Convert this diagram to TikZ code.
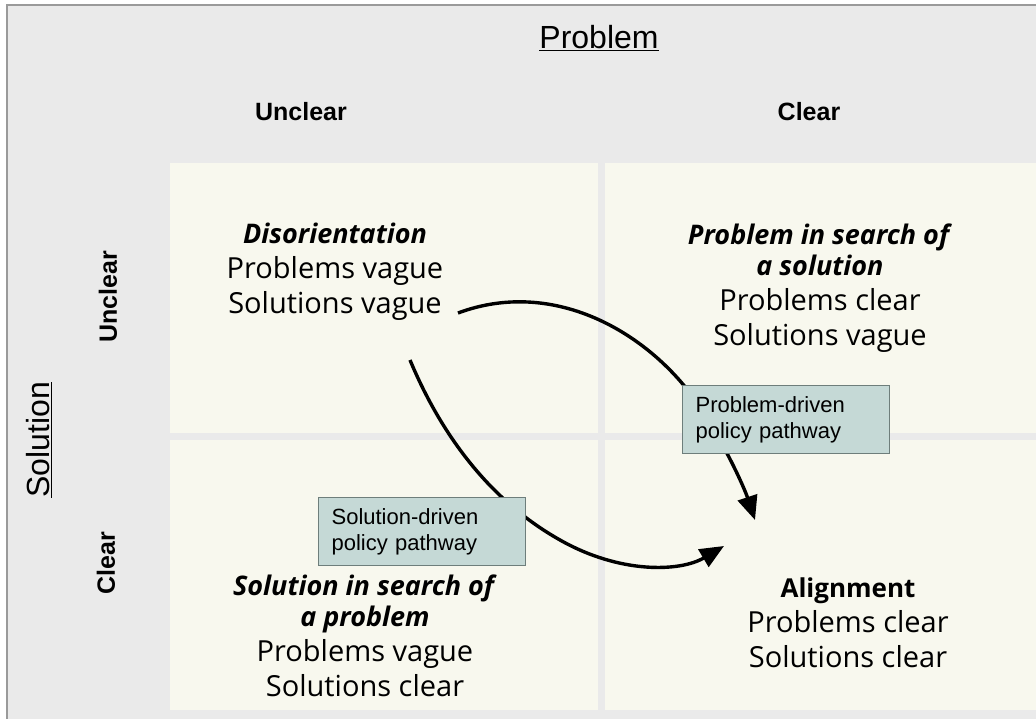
\documentclass[tikz,border=0pt]{standalone}
\usepackage{fontspec}
\setmainfont{Open Sans}
\newfontfamily\arialfont{Liberation Sans}
\usetikzlibrary{arrows.meta,positioning}
\definecolor{panelgray}{HTML}{EAEAEA}
\definecolor{framegray}{HTML}{9A9A9A}
\definecolor{quadcream}{HTML}{F8F8EE}
\definecolor{pathteal}{HTML}{C5D9D6}
\definecolor{pathedge}{HTML}{6E7E7B}
\tikzset{font=\arialfont}
\tikzset{quad/.style={fill=quadcream,inner sep=0pt,anchor=north west,minimum height=270pt}}
\tikzset{axistitle/.style={font=\arialfont\fontsize{32}{36}\selectfont}}
\tikzset{axishead/.style={font=\arialfont\bfseries\fontsize{25}{30}\selectfont}}
\tikzset{quadtext/.style={font=\rmfamily\fontsize{29}{35}\selectfont,align=center,inner sep=0pt}}
\tikzset{pathbox/.style={draw=pathedge,fill=pathteal,line width=1.2pt,anchor=north west,
  text width=181pt,inner xsep=13pt,minimum height=68pt,align=left,
  font=\arialfont\fontsize{22}{26}\selectfont}}
\tikzset{pathway/.style={line width=3.4pt,-{Triangle[length=24pt,width=20pt]}}}
\newcommand{\bi}[1]{{\fontsize{27}{35}\selectfont\textbf{\textit{#1}}}}
\newcommand{\bh}[1]{{\fontsize{26}{35}\selectfont\textbf{#1}}}

\begin{document}
\begin{tikzpicture}[x=1pt,y=-1pt]
\useasboundingbox (0,0) rectangle (1036,719);
\fill[white] (0,0) rectangle (1036,719);
\fill[panelgray] (7,5) rectangle (1036,719);
\draw[framegray,line width=1.5pt] (7,719) -- (7,5) -- (1036,5);

% quadrants
\node[quad,minimum width=428pt] (tlq) at (170,163) {};
\node[quad,minimum width=431pt] (trq) at (605,163) {};
\node[quad,minimum width=428pt] (blq) at (170,440) {};
\node[quad,minimum width=431pt] (brq) at (605,440) {};

% axis labels
\node[axistitle] (probtitle) at (599,38) {\underline{Problem}};
\node[axistitle,rotate=90] (soltitle) at (39,440) {\underline{Solution}};
\node[axishead] (colunclear) at (301,112) {Unclear};
\node[axishead] (colclear) at (809,112) {Clear};
\node[axishead,rotate=90] (rowunclear) at (108,297) {Unclear};
\node[axishead,rotate=90] (rowclear) at (106,563) {Clear};

% pathways
\coordinate (pdstart) at (458,313);
\coordinate (pdbend) at (705,415);
\coordinate (pdtip) at (755,520);
\coordinate (sdstart) at (410,360);
\coordinate (sdbend) at (560,540);
\coordinate (sdtip) at (724,546);
\draw[pathway] (pdstart) .. controls (560,275) and (660,340) .. (pdbend)
  .. controls (730,455) and (745,490) .. (pdtip);
\draw[pathway] (sdstart) .. controls (435,420) and (480,495) .. (sdbend)
  .. controls (620,574) and (680,572) .. (sdtip);

\node[pathbox] (pdbox) at (682,385) {Problem-driven\\policy pathway};
\node[pathbox] (sdbox) at (318,497) {Solution-driven\\policy pathway};

% quadrant texts
\node[quadtext] (tltext) at (335,272) {\bi{Disorientation}\\Problems vague\\Solutions vague};
\node[quadtext] (trtext) at (820,288) {\bi{Problem in search of}\\[-4pt]\bi{a solution}\\Problems clear\\Solutions vague};
\node[quadtext] (bltext) at (365,636) {\bi{Solution in search of}\\[-4pt]\bi{a problem}\\Problems vague\\Solutions clear};
\node[quadtext] (brtext) at (848,623) {\bh{Alignment}\\Problems clear\\Solutions clear};
\end{tikzpicture}
\end{document}
